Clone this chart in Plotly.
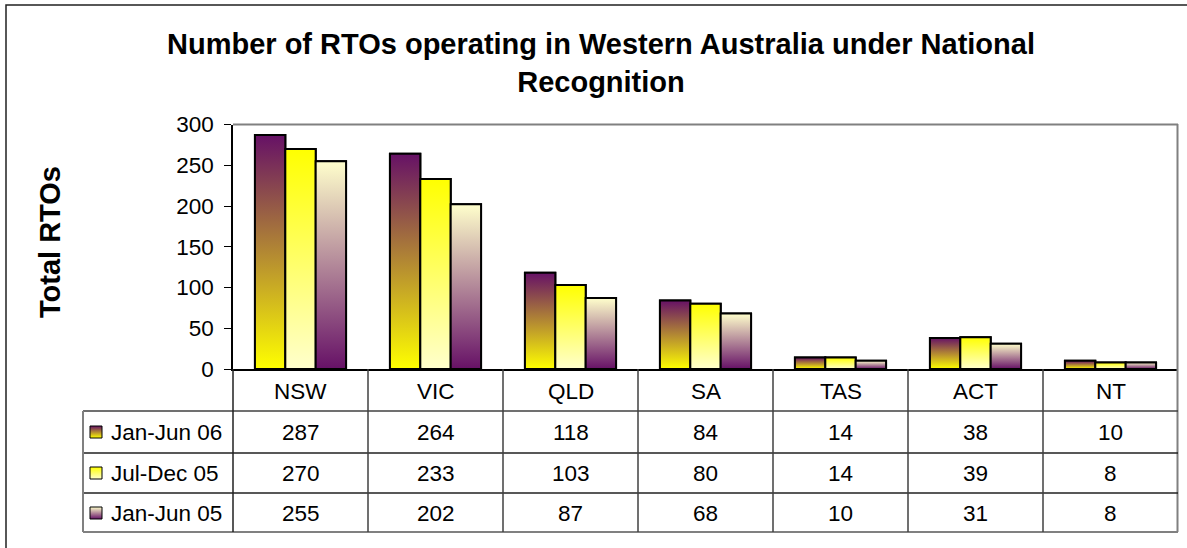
import plotly.graph_objects as go

# ---------------- data ----------------
categories = ["NSW", "VIC", "QLD", "SA", "TAS", "ACT", "NT"]
series_names = ["Jan-Jun 06", "Jul-Dec 05", "Jan-Jun 05"]
jan_jun_06 = [287, 264, 118, 84, 14, 38, 10]
jul_dec_05 = [270, 233, 103, 80, 14, 39, 8]
jan_jun_05 = [255, 202, 87, 68, 10, 31, 8]
y_ticks = [0, 50, 100, 150, 200, 250, 300]

series_values = [jan_jun_06, jul_dec_05, jan_jun_05]
# (top colour, bottom colour) of each series' vertical gradient
PURPLE = "#661166"
YELLOW = "#FFFF00"
CREAM = "#FFFFCC"
grad = [(PURPLE, YELLOW), (YELLOW, CREAM), (CREAM, PURPLE)]
mid = ["#B08A40", "#FFFF66", "#B8889A"]

W, H = 1187, 548
FONT = "Liberation Sans, Arial, sans-serif"
TSIZE = 22.5


def px(x):
    return x / W


def py(y):
    return 1 - y / H


fig = go.Figure()

bw = 0.225
xs = list(range(len(categories)))
for s, (name, vals) in enumerate(zip(series_names, series_values)):
    off = (s - 1) * bw - bw / 2
    fig.add_trace(go.Bar(
        x=xs, y=vals, width=bw, offset=off, name=name,
        marker=dict(color=mid[s], line=dict(color="black", width=2)),
        showlegend=False, hoverinfo="skip",
    ))
    top, bot = grad[s]
    for i, v in enumerate(vals):
        x0 = i + off
        x1 = x0 + bw
        fig.add_trace(go.Scatter(
            x=[x0, x0, x1, x1, x0], y=[0, v, v, 0, 0],
            mode="lines", fill="toself",
            fillgradient=dict(type="vertical",
                              colorscale=[[0, bot], [1, top]]),
            line=dict(color="black", width=2),
            showlegend=False, hovertemplate=f"{name} {categories[i]}: {v}<extra></extra>",
        ))

# legend keys inside table (pixel-space helper axes)
row_y = [432, 473, 513]
for s in range(3):
    top, bot = grad[s]
    fig.add_trace(go.Scatter(
        x=[96], y=[row_y[s]], mode="markers", xaxis="x2", yaxis="y2",
        marker=dict(symbol="square", size=12, color=top,
                    gradient=dict(type="vertical", color=bot),
                    line=dict(color="black", width=1)),
        showlegend=False, hoverinfo="skip",
    ))

shapes = []


def hline(y, x0, x1, color="#404040", width=1.5):
    shapes.append(dict(type="line", xref="paper", yref="paper",
                       x0=px(x0), x1=px(x1), y0=py(y), y1=py(y),
                       line=dict(color=color, width=width)))


def vline(x, y0, y1, color="#404040", width=1.5, xref="paper"):
    xx = px(x) if xref == "paper" else x
    shapes.append(dict(type="line", xref=xref, yref="paper",
                       x0=xx, x1=xx, y0=py(y0), y1=py(y1),
                       line=dict(color=color, width=width)))


# outer chart frame
shapes.append(dict(type="rect", xref="paper", yref="paper",
                   x0=px(6), x1=px(1200), y0=py(5), y1=py(560),
                   line=dict(color="#202020", width=1.5)))
# plot area border (top/right)
hline(124.5, 233, 1178, color="#808080", width=2)
vline(1177.5, 124, 532, color="#808080", width=2)
# table
hline(411, 83, 1178)
hline(453, 83, 1178, color="#202020")
hline(493, 83, 1178, color="#202020")
hline(532, 83, 1178, color="#808080", width=2)
vline(83, 411, 532, color="#808080", width=2)
vline(233, 369, 532, color="#202020")
for i in range(len(categories) - 1):
    vline(i + 0.5, 369, 532, color="#404040", xref="x")

annotations = []
# title
annotations.append(dict(
    text="<b>Number of RTOs operating in Western Australia under National<br>Recognition</b>",
    x=px(601), y=py(63), xref="paper", yref="paper", showarrow=False,
    xanchor="center", yanchor="middle",
    font=dict(family=FONT, size=29, color="black")))
# y-axis title
annotations.append(dict(
    text="<b>Total RTOs</b>", textangle=-90,
    x=px(50), y=py(242), xref="paper", yref="paper", showarrow=False,
    xanchor="center", yanchor="middle",
    font=dict(family=FONT, size=29, color="black")))
# header labels
for i, c in enumerate(categories):
    annotations.append(dict(text=c, x=i, y=py(391), xref="x", yref="paper",
                            showarrow=False, xanchor="center", yanchor="middle",
                            font=dict(family=FONT, size=TSIZE, color="black")))
# rows
for s, (name, vals) in enumerate(zip(series_names, series_values)):
    annotations.append(dict(text=name, x=px(109), y=py(row_y[s]), xref="paper",
                            yref="paper", showarrow=False, xanchor="left",
                            yanchor="middle",
                            font=dict(family=FONT, size=TSIZE, color="black")))
    for i, v in enumerate(vals):
        annotations.append(dict(text=str(v), x=i, y=py(row_y[s]), xref="x",
                                yref="paper", showarrow=False,
                                xanchor="center", yanchor="middle",
                                font=dict(family=FONT, size=TSIZE, color="black")))

fig.update_layout(
    width=W, height=H,
    margin=dict(l=0, r=0, t=0, b=0, pad=0, autoexpand=False),
    paper_bgcolor="white", plot_bgcolor="rgba(0,0,0,0)",
    barmode="overlay",
    showlegend=False,
    xaxis=dict(domain=[px(233), px(1178)], range=[-0.5, len(categories) - 0.5],
               showticklabels=False, ticks="", showgrid=False, zeroline=False,
               showline=True, linecolor="black", linewidth=1.5, fixedrange=True,
               automargin=False),
    yaxis=dict(domain=[py(369), py(124.5)], range=[0, 300], tickvals=y_ticks,
               ticks="outside", ticklen=7, tickcolor="black", tickwidth=1,
               showgrid=False, zeroline=False, showline=True, linecolor="black",
               linewidth=1.5, ticklabelstandoff=6, automargin=False,
               tickfont=dict(family=FONT, size=TSIZE, color="black"), fixedrange=True),
    xaxis2=dict(domain=[0, 1], range=[0, W], visible=False, anchor="y2",
                fixedrange=True, automargin=False),
    yaxis2=dict(domain=[0, 1], range=[H, 0], visible=False, anchor="x2",
                fixedrange=True, automargin=False),
    shapes=shapes,
    annotations=annotations,
    font=dict(family=FONT, color="black"),
)

fig.write_html("out.html", config={"displayModeBar": False},
               post_script="document.body.style.margin='0px';")
